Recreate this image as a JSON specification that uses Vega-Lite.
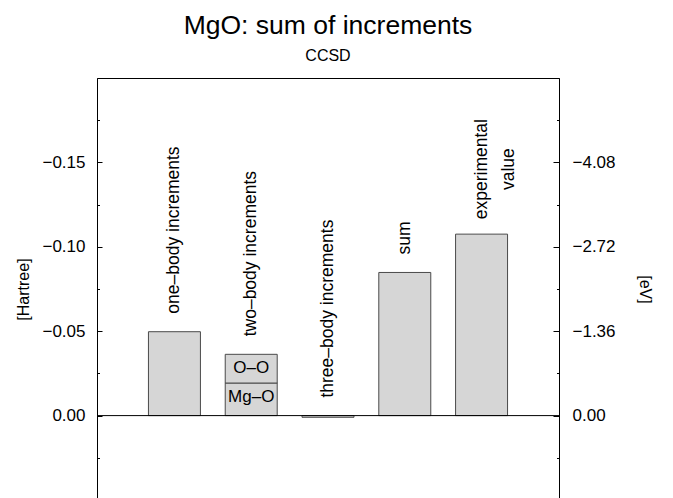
{
  "$schema": "https://vega.github.io/schema/vega-lite/v6.json",
  "autosize": "none",
  "padding": {"left": 97, "top": 78, "right": 114, "bottom": -2},
  "width": 462,
  "height": 422,
  "config": {
    "font": "Liberation Sans",
    "view": {"stroke": "black", "strokeWidth": 1},
    "axis": {"labelFont": "Liberation Sans", "titleFont": "Liberation Sans", "labelColor": "black", "titleColor": "black", "domainColor": "black", "tickColor": "black", "grid": false, "labelFontSize": 17, "titleFontSize": 16, "titleFontWeight": "normal"}
  },
  "title": {
    "text": "MgO: sum of increments",
    "subtitle": "CCSD",
    "font": "Liberation Sans",
    "subtitleFont": "Liberation Sans",
    "fontSize": 26.5,
    "subtitleFontSize": 16,
    "fontWeight": "normal",
    "color": "black",
    "subtitleColor": "black",
    "anchor": "middle",
    "offset": 14,
    "subtitlePadding": 9
  },
  "datasets": {
    "bars": [
      {"item": "one", "segment": "one-body", "lo": 0, "hi": -0.0497},
      {"item": "two", "segment": "Mg–O", "lo": 0, "hi": -0.0193},
      {"item": "two", "segment": "O–O", "lo": -0.0193, "hi": -0.0363},
      {"item": "three", "segment": "three-body", "lo": 0, "hi": 0.001},
      {"item": "sum", "segment": "sum", "lo": 0, "hi": -0.0848},
      {"item": "exp", "segment": "experimental", "lo": 0, "hi": -0.1075}
    ],
    "labels": [
      {"item": "one", "top": -0.0497, "label": "one–body increments"},
      {"item": "two", "top": -0.0363, "label": "two–body increments"},
      {"item": "three", "top": 0, "label": "three–body increments"},
      {"item": "sum", "top": -0.0848, "label": "sum"},
      {"item": "exp", "top": -0.1075, "label": ["experimental", "value"]}
    ],
    "segs": [
      {"item": "two", "top": -0.0193, "seg": "Mg–O"},
      {"item": "two", "top": -0.0363, "seg": "O–O"}
    ],
    "zero": [
      {"level": 0}
    ]
  },
  "resolve": {"scale": {"y": "shared", "x": "shared"}, "axis": {"y": "independent"}},
  "layer": [
    {
      "data": {"name": "bars"},
      "mark": {"type": "bar", "fill": "#d6d6d6", "stroke": "#4a4a4a", "strokeWidth": 1},
      "encoding": {
        "x": {"field": "item", "type": "nominal", "sort": null,
          "scale": {"domain": ["one", "two", "three", "sum", "exp"], "paddingInner": 0.323, "paddingOuter": 0.67},
          "axis": null},
        "y": {"field": "hi", "type": "quantitative",
          "scale": {"domain": [-0.2, 0.05], "reverse": true, "nice": false, "zero": false},
          "axis": {"orient": "left", "values": [-0.15, -0.1, -0.05, 0], "format": ".2f", "tickSize": -5, "labelPadding": 17, "title": "[Hartree]", "titlePadding": 10}},
        "y2": {"field": "lo"}
      }
    },
    {
      "data": {"name": "zero"},
      "mark": {"type": "rule", "color": "black", "strokeWidth": 1},
      "encoding": {
        "y": {"field": "level", "type": "quantitative",
          "scale": {"domain": [-0.2, 0.05], "reverse": true, "nice": false, "zero": false},
          "axis": {"orient": "right", "values": [-0.15, -0.1, -0.05, 0], "labelExpr": "format(datum.value * 27.2, '.2f')", "tickSize": -6, "labelPadding": 19, "title": "[eV]", "titlePadding": 21}}
      }
    },
    {
      "data": {"name": "labels"},
      "transform": [{"filter": "datum.item != 'exp'"}],
      "mark": {"type": "text", "angle": 270, "align": "left", "baseline": "middle", "dx": 18, "fontSize": 17.5, "color": "black"},
      "encoding": {
        "x": {"field": "item", "type": "nominal", "sort": null,
          "scale": {"domain": ["one", "two", "three", "sum", "exp"], "paddingInner": 0.323, "paddingOuter": 0.67}, "axis": null},
        "y": {"field": "top", "type": "quantitative",
          "scale": {"domain": [-0.2, 0.05], "reverse": true, "nice": false, "zero": false},
          "axis": {"orient": "left", "values": [-0.175, -0.125, -0.075, -0.025, 0.025], "labels": false, "domain": false, "tickSize": -2.5, "title": null}},
        "text": {"field": "label"}
      }
    },
    {
      "data": {"name": "labels"},
      "transform": [{"filter": "datum.item == 'exp'"}],
      "mark": {"type": "text", "angle": 270, "align": "center", "baseline": "middle", "dx": 65, "fontSize": 17.5, "lineHeight": 27, "color": "black"},
      "encoding": {
        "x": {"field": "item", "type": "nominal", "sort": null,
          "scale": {"domain": ["one", "two", "three", "sum", "exp"], "paddingInner": 0.323, "paddingOuter": 0.67}, "axis": null},
        "y": {"field": "top", "type": "quantitative",
          "scale": {"domain": [-0.2, 0.05], "reverse": true, "nice": false, "zero": false},
          "axis": {"orient": "right", "values": [-0.175, -0.125, -0.075, -0.025, 0.025], "labels": false, "domain": false, "tickSize": -2.5, "title": null}},
        "text": {"field": "label"}
      }
    },
    {
      "data": {"name": "segs"},
      "mark": {"type": "text", "align": "center", "baseline": "middle", "dy": 14, "fontSize": 17, "color": "black"},
      "encoding": {
        "x": {"field": "item", "type": "nominal", "sort": null,
          "scale": {"domain": ["one", "two", "three", "sum", "exp"], "paddingInner": 0.323, "paddingOuter": 0.67}, "axis": null},
        "y": {"field": "top", "type": "quantitative",
          "scale": {"domain": [-0.2, 0.05], "reverse": true, "nice": false, "zero": false}, "axis": null},
        "text": {"field": "seg"}
      }
    }
  ]
}
